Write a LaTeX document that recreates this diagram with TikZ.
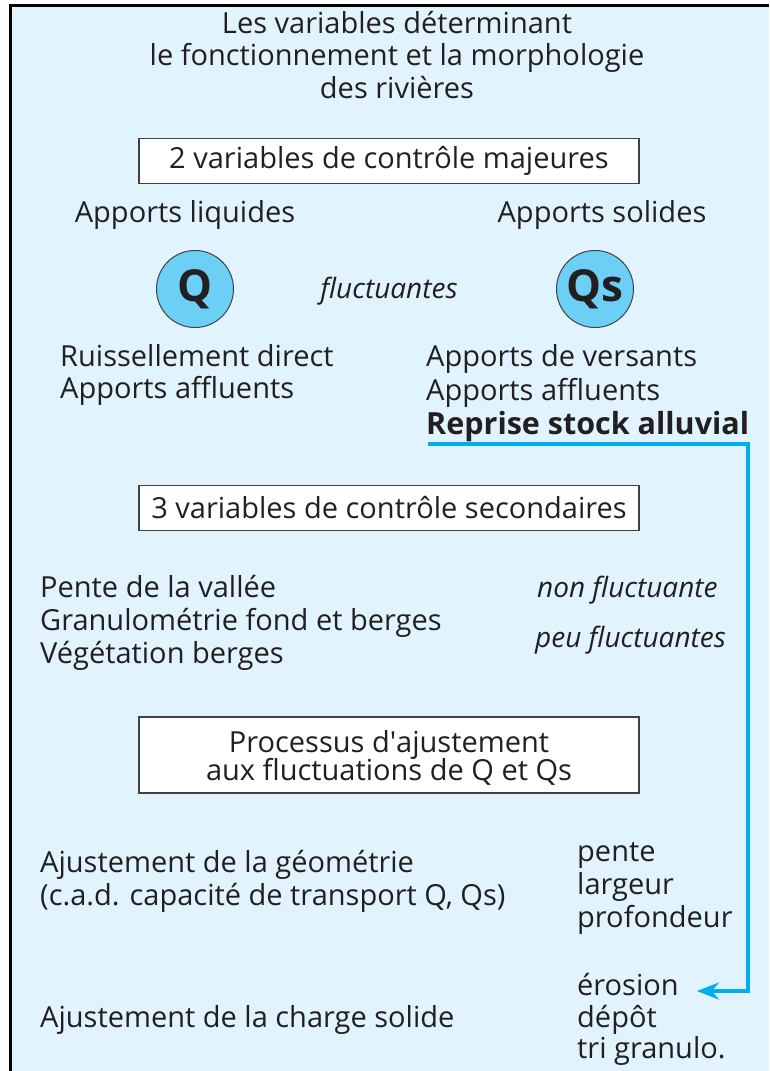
\documentclass[tikz,border=0pt]{standalone}
\usepackage{fontspec}
\setsansfont{Open Sans}
\newfontfamily\plainsans{Open Sans}
\usetikzlibrary{arrows.meta}
\definecolor{panel}{HTML}{E1F3FD}
\definecolor{disc}{HTML}{6CCFF6}
\definecolor{flowblue}{HTML}{00AEEF}
\definecolor{ink}{HTML}{231F20}
\begin{document}
\begin{tikzpicture}[x=1pt, y=-1pt, font=\sffamily\fontsize{29}{32}\selectfont, text=ink,
          >={Stealth[length=22pt,width=17pt]},
          line/.style={anchor=base west, inner sep=0pt},
          mid/.style={anchor=base, inner sep=0pt},
          note/.style={line, font=\sffamily\itshape\fontsize{28}{30}\selectfont},
          box/.style={draw=ink!85, line width=1.4pt, fill=white, minimum width=500pt},
          var/.style={circle, draw=ink!85, line width=1pt, fill=disc, minimum size=77pt, inner sep=0pt,
                      font=\sffamily\bfseries\fontsize{44}{44}\selectfont},
          flow/.style={draw=flowblue, line width=4.5pt, ->}]
        \useasboundingbox (0,0) rectangle (769,1071);
        \fill[panel] (10,5) rectangle (769,1071);
        \draw[line width=3pt] (10,1071) -- (10,5) -- (769,5);
        % titre
        \node[mid] (t1) at (397,33) {Les variables déterminant};
        \node[mid] (t2) at (397,65) {le fonctionnement et la morphologie};
        \node[mid] (t3) at (397,98) {des rivières};
        % variables majeures
        \node[box, minimum height=45pt] (maj) at (389,161) {2 variables de contrôle majeures};
        \node[mid] (liq) at (185,222) {Apports liquides};
        \node[mid] (sol) at (602,222) {Apports solides};
        \node[var] (q) at (195,289) {Q};
        \node[var] (qs) at (595,289) {Qs};
        \node[note, anchor=base] (fluc) at (389,298) {fluctuantes};
        \node[line] (l1) at (60,366) {Ruissellement direct};
        \node[line] (l2) at (60,398) {Apports affluents};
        \node[line] (s1) at (426,366) {Apports de versants};
        \node[line] (s2) at (426,400) {Apports affluents};
        \node[line, font=\sffamily\bfseries\fontsize{30.5}{32}\selectfont] (s3) at (426,434) {Reprise stock alluvial};
        % variables secondaires
        \node[box, minimum height=45pt] (sec) at (389,508) {3 variables de contrôle secondaires};
        \node[line] (v1) at (40,597) {Pente de la vallée};
        \node[line] (v2) at (40,630) {Granulométrie fond et berges};
        \node[line] (v3) at (40,663) {Végétation berges};
        \node[note] (nf) at (537,597) {non fluctuante};
        \node[note] (pf) at (535,647) {peu fluctuantes};
        % ajustement
        \node[box, minimum height=76pt] (proc) at (389,755) {};
        \node[mid] (p1) at (389,752) {Processus d{\plainsans'}ajustement};
        \node[mid] (p2) at (389,780) {aux fluctuations de Q et Qs};
        \node[line] (g1) at (40,872) {Ajustement de la géométrie};
        \node[line] (g2) at (40,905) {(c.a.d. capacité de transport Q, Qs)};
        \node[line] (g3) at (577,861) {pente};
        \node[line] (g4) at (577,894) {largeur};
        \node[line] (g5) at (577,927) {profondeur};
        \node[line] (c1) at (40,1027) {Ajustement de la charge solide};
        \node[line] (c2) at (577,995) {érosion};
        \node[line] (c3) at (577,1027) {dépôt};
        \node[line] (c4) at (577,1058) {tri granulo.};
        % reprise -> erosion
        \coordinate (from) at (428,444);
        \coordinate (turn) at (748,444);
        \draw[flow] (from) -- (turn) |- ([xshift=18pt, yshift=-7pt]c2.east);
      \end{tikzpicture}
\end{document}
